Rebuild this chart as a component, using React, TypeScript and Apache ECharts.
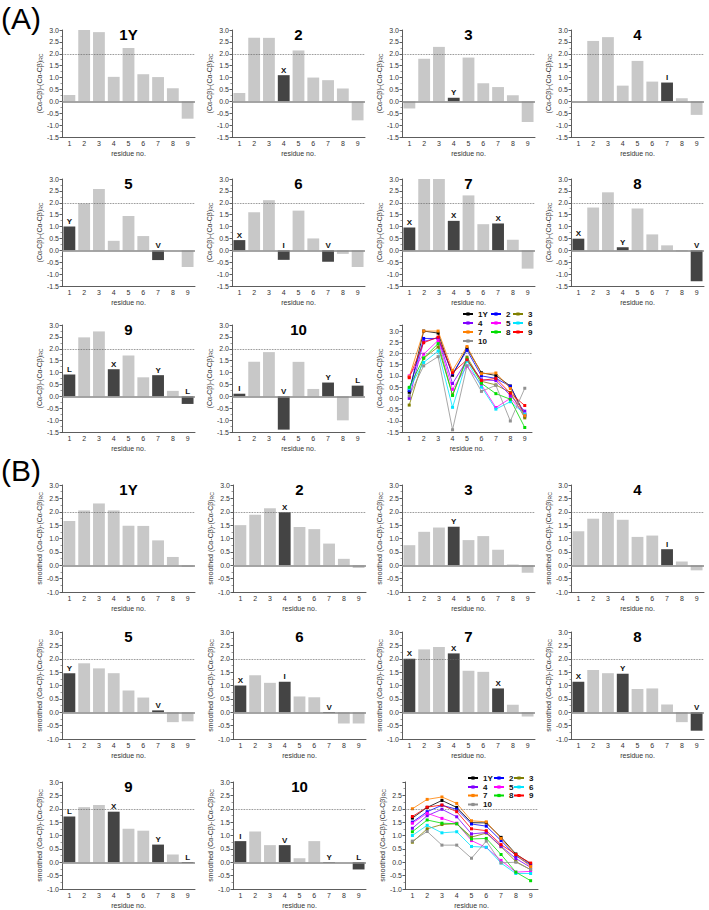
import React, { useEffect, useRef } from "react";
import * as echarts from "echarts";

// ---------- data ----------
const residues = ["1", "2", "3", "4", "5", "6", "7", "8", "9"];
const peptides = ["1Y", "2", "3", "4", "5", "6", "7", "8", "9", "10"];

// (A) raw (Cα-Cβ)-(Cα-Cβ)RC
const raw1Y = [0.27, 3.0, 2.91, 1.03, 2.24, 1.14, 1.02, 0.55, -0.73];
const raw2 = [0.35, 2.67, 2.67, 1.1, 2.14, 1.0, 0.89, 0.54, -0.8];
const raw3 = [-0.3, 1.79, 2.29, 0.15, 1.84, 0.76, 0.6, 0.26, -0.87];
const raw4 = [0.0, 2.54, 2.7, 0.66, 1.7, 0.83, 0.79, 0.13, -0.57];
const raw5 = [1.0, 1.97, 2.58, 0.4, 1.44, 0.6, -0.41, 0.0, -0.7];
const raw6 = [0.43, 1.6, 2.11, -0.4, 1.67, 0.5, -0.48, -0.15, -0.7];
const raw7 = [0.96, 3.0, 3.0, 1.24, 2.31, 1.1, 1.13, 0.44, -0.77];
const raw8 = [0.49, 1.8, 2.44, 0.13, 1.76, 0.67, 0.21, -0.04, -1.3];
const raw9 = [0.92, 2.48, 2.73, 1.14, 1.72, 0.8, 0.89, 0.23, -0.32];
const raw10 = [0.11, 1.45, 1.86, -1.4, 1.45, 0.31, 0.58, -1.01, 0.45];

// (B) smoothed
const smooth1Y = [1.65, 2.05, 2.31, 2.05, 1.48, 1.47, 0.93, 0.31, -0.06];
const smooth2 = [1.5, 1.89, 2.13, 1.98, 1.43, 1.35, 0.81, 0.24, -0.1];
const smooth3 = [0.75, 1.25, 1.41, 1.44, 0.94, 1.09, 0.58, 0.03, -0.28];
const smooth4 = [1.27, 1.74, 1.98, 1.7, 1.06, 1.11, 0.6, 0.14, -0.19];
const smooth5 = [1.46, 1.83, 1.64, 1.46, 0.81, 0.55, 0.07, -0.37, -0.34];
const smooth6 = [1.0, 1.38, 1.1, 1.14, 0.59, 0.56, -0.03, -0.42, -0.42];
const smooth7 = [2.0, 2.35, 2.44, 2.2, 1.55, 1.51, 0.89, 0.28, -0.16];
const smooth8 = [1.14, 1.58, 1.46, 1.44, 0.87, 0.89, 0.29, -0.37, -0.69];
const smooth9 = [1.71, 2.06, 2.14, 1.89, 1.25, 1.18, 0.66, 0.29, -0.03];
const smooth10 = [0.79, 1.15, 0.64, 0.64, 0.15, 0.79, -0.02, 0.0, -0.27];

// highlighted (dark) residues with their letters
const mark1Y = ["", "", "", "", "", "", "", "", ""];
const mark2 = ["", "", "", "X", "", "", "", "", ""];
const mark3 = ["", "", "", "Y", "", "", "", "", ""];
const mark4 = ["", "", "", "", "", "", "I", "", ""];
const mark5 = ["Y", "", "", "", "", "", "V", "", ""];
const mark6 = ["X", "", "", "I", "", "", "V", "", ""];
const mark7 = ["X", "", "", "X", "", "", "X", "", ""];
const mark8 = ["X", "", "", "Y", "", "", "", "", "V"];
const mark9 = ["L", "", "", "X", "", "", "Y", "", "L"];
const mark10 = ["I", "", "", "V", "", "", "Y", "", "L"];

const rawSets = [raw1Y, raw2, raw3, raw4, raw5, raw6, raw7, raw8, raw9, raw10];
const smoothSets = [smooth1Y, smooth2, smooth3, smooth4, smooth5, smooth6, smooth7, smooth8, smooth9, smooth10];
const markSets = [mark1Y, mark2, mark3, mark4, mark5, mark6, mark7, mark8, mark9, mark10];

const yMinA = -1.5;
const yMinB = -1.0;
const yMaxBars = 3.0;
const yInterval = 0.5;
const threshold = 2.0;

// ---------- style / layout ----------
const FONT = '"Liberation Sans", Arial, Helvetica, sans-serif';
const LIGHT = "#c8c8c8";
const DARK = "#444444";
const lineColors = ["#000000", "#0000ff", "#808000", "#8000ff", "#ff00ff", "#00e5ff", "#ff8000", "#00dd00", "#ff0000", "#909090"];
const PW = 133;
const PH = 107;

const colLeftA = [62, 232, 402, 571];
const colLeftB = [62, 233, 402, 571];
const rowTopA = [30, 179, 325];
const rowTopB = [485, 632, 782];

function buildOption() {
  const grid: any[] = [];
  const xAxis: any[] = [];
  const yAxis: any[] = [];
  const series: any[] = [];
  const legend: any[] = [];
  const graphic: any[] = [];

  const panels = [
    {
      sets: rawSets,
      cols: colLeftA,
      rows: rowTopA,
      yMin: yMinA,
      yName: "(Cα-Cβ)-(Cα-Cβ){s|RC}",
      combo: { left: 402, top: 325, width: 130, yMax: 3.27 },
      legCols: [462, 490, 512],
      legRows: [314, 323, 332, 341],
    },
    {
      sets: smoothSets,
      cols: colLeftB,
      rows: rowTopB,
      yMin: yMinB,
      yName: "smoothed (Cα-Cβ)-(Cα-Cβ){s|RC}",
      combo: { left: 405, top: 782, width: 133, yMax: 3.0 },
      legCols: [467, 493, 513],
      legRows: [778, 787, 795.5, 804.5],
    },
  ];

  let gi = 0;
  panels.forEach((P) => {
    for (let i = 0; i < 11; i++) {
      const isCombo = i === 10;
      const row = Math.floor(i / 4);
      const col = i % 4;
      const left = isCombo ? P.combo.left : P.cols[col];
      const top = isCombo ? P.combo.top : P.rows[row];
      const width = isCombo ? P.combo.width : PW;
      const yMax = isCombo ? P.combo.yMax : yMaxBars;

      grid.push({ left, top, width, height: PH, containLabel: false });
      xAxis.push({
        gridIndex: gi,
        type: "category",
        data: residues,
        boundaryGap: true,
        axisLine: { onZero: false, lineStyle: { color: "#333", width: 0.8 } },
        axisTick: { alignWithLabel: true, length: 2.5, lineStyle: { color: "#333", width: 0.8 } },
        axisLabel: { fontSize: 7, margin: 3, color: "#333", fontFamily: FONT },
        name: "residue no.",
        nameLocation: "middle",
        nameGap: 13,
        nameTextStyle: { fontSize: 7, color: "#333", fontFamily: FONT },
        splitLine: { show: false },
      });
      yAxis.push({
        gridIndex: gi,
        type: "value",
        min: P.yMin,
        max: yMax,
        interval: yInterval,
        axisLine: { show: true, lineStyle: { color: "#333", width: 0.8 } },
        axisTick: { show: true, length: 2.5, lineStyle: { color: "#333", width: 0.8 } },
        minorTick: { show: true, splitNumber: 2, length: 1.5, lineStyle: { color: "#555", width: 0.6 } },
        splitLine: { show: false },
        axisLabel: {
          fontSize: 7,
          margin: 3,
          color: "#333",
          fontFamily: FONT,
          showMaxLabel: !isCombo,
          formatter: (v: number) => v.toFixed(1),
        },
        name: P.yName,
        nameLocation: "middle",
        nameGap: 15,
        nameTextStyle: {
          fontSize: 7,
          color: "#333",
          fontFamily: FONT,
          rich: { s: { fontSize: 5, color: "#333", fontFamily: FONT, verticalAlign: "bottom" } },
        },
      });

      if (!isCombo) {
        const vals = P.sets[i];
        const mk = markSets[i];
        series.push({
          type: "bar",
          xAxisIndex: gi,
          yAxisIndex: gi,
          silent: true,
          barCategoryGap: "20%",
          itemStyle: { color: LIGHT },
          data: vals.map((v, k) =>
            mk[k]
              ? {
                  value: v,
                  itemStyle: { color: DARK },
                  label: {
                    show: true,
                    formatter: mk[k],
                    position: "top",
                    distance: 1,
                    fontSize: 8,
                    fontWeight: "bold",
                    color: "#111",
                    fontFamily: FONT,
                  },
                }
              : v
          ),
          markLine: {
            silent: true,
            symbol: "none",
            label: { show: false },
            data: [
              { yAxis: threshold, lineStyle: { type: "dotted", color: "#666", width: 0.8 } },
              { yAxis: 0, lineStyle: { type: "solid", color: "#888", width: 1.6 } },
            ],
          },
        });
        graphic.push({
          type: "text",
          x: left + PW / 2,
          y: top - 3,
          style: {
            text: peptides[i],
            font: `bold 15px ${FONT}`,
            fill: "#000",
            textAlign: "center",
            align: "center",
            textVerticalAlign: "top",
            verticalAlign: "top",
          },
        });
      } else {
        peptides.forEach((p, k) => {
          series.push({
            type: "line",
            name: p,
            xAxisIndex: gi,
            yAxisIndex: gi,
            silent: true,
            data: P.sets[k],
            symbol: "rect",
            symbolSize: 3,
            lineStyle: { width: 0.8, color: lineColors[k] },
            itemStyle: { color: lineColors[k] },
            color: lineColors[k],
            z: 3,
            markLine:
              k === 0
                ? {
                    silent: true,
                    symbol: "none",
                    label: { show: false },
                    data: [{ yAxis: threshold, lineStyle: { type: "dotted", color: "#666", width: 0.8 } }],
                  }
                : undefined,
          });
          legend.push({
            data: [p],
            left: P.legCols[k % 3],
            top: P.legRows[Math.floor(k / 3)] - 5,
            orient: "horizontal",
            padding: 0,
            itemGap: 0,
            itemWidth: 10,
            itemHeight: 4,
            selectedMode: false,
            textStyle: { fontSize: 8, fontWeight: "bold", color: "#111", fontFamily: FONT, lineHeight: 10 },
          });
        });
      }
      gi++;
    }
  });

  graphic.push({
    type: "text",
    x: 1,
    y: 3,
    style: { text: "(A)", font: `30px ${FONT}`, fill: "#000", textVerticalAlign: "top", verticalAlign: "top" },
  });
  graphic.push({
    type: "text",
    x: 1,
    y: 455,
    style: { text: "(B)", font: `30px ${FONT}`, fill: "#000", textVerticalAlign: "top", verticalAlign: "top" },
  });

  return {
    animation: false,
    backgroundColor: "#ffffff",
    textStyle: { fontFamily: FONT },
    grid,
    xAxis,
    yAxis,
    series,
    legend,
    graphic,
  };
}

export default function App() {
  const ref = useRef<HTMLDivElement>(null);
  useEffect(() => {
    if (!ref.current) return;
    const chart = echarts.init(ref.current, null, { renderer: "svg" });
    chart.setOption(buildOption() as any);
    return () => chart.dispose();
  }, []);
  return (
    <div
      ref={ref}
      style={{ position: "absolute", left: 0, top: 0, width: 709, height: 910, background: "#fff" }}
    />
  );
}
